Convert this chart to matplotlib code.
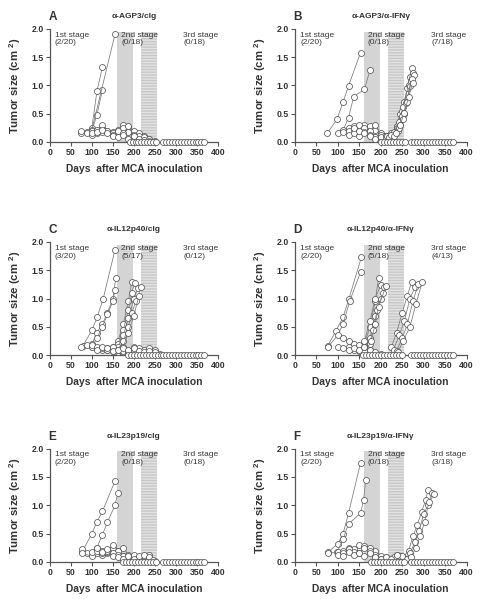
"""Tumor growth curves after MCA inoculation, six antibody treatment groups."""

import matplotlib

matplotlib.use("Agg")

import matplotlib.pyplot as plt

plt.rcParams["font.family"] = ["Liberation Sans", "DejaVu Sans"]
plt.rcParams["mathtext.fontset"] = "custom"
plt.rcParams["mathtext.rm"] = "Liberation Sans"
plt.rcParams["mathtext.bf"] = "Liberation Sans:bold"

PANEL_LETTERS = ["A", "B", "C", "D", "E", "F"]
PANEL_TITLES = [
    "α-AGP3/cIg",
    "α-AGP3/α-IFNγ",
    "α-IL12p40/cIg",
    "α-IL12p40/α-IFNγ",
    "α-IL23p19/cIg",
    "α-IL23p19/α-IFNγ",
]
STAGE1_COUNTS = ["(2/20)", "(2/20)", "(3/20)", "(2/20)", "(2/20)", "(2/20)"]
STAGE2_COUNTS = ["(0/18)", "(0/18)", "(5/17)", "(5/18)", "(0/18)", "(0/18)"]
STAGE3_COUNTS = ["(0/18)", "(7/18)", "(0/12)", "(4/13)", "(0/18)", "(3/18)"]

# treatment windows (days)
SECOND_STAGE_WINDOW = (160, 198)
THIRD_STAGE_WINDOW = (216, 255)

# each mouse: (days, tumor size in cm2)
A_MICE = [
    ([100, 112, 125], [0.20, 0.48, 0.92]),
    ([100, 112, 125], [0.25, 0.90, 1.32]),
    ([100, 155], [0.22, 1.90]),
    ([75, 88, 100, 112, 125, 137, 150, 162, 175, 187, 200, 212, 225, 237, 250],
     [0.15, 0.18, 0.20, 0.15, 0.25, 0.20, 0.18, 0.22, 0.30, 0.25, 0.20, 0.15, 0.10, 0.05, 0.00]),
    ([75, 88, 100, 112, 125, 137, 150, 162, 175, 187, 200, 212],
     [0.20, 0.15, 0.12, 0.20, 0.30, 0.18, 0.15, 0.12, 0.25, 0.18, 0.10, 0.05]),
    ([100, 112, 125, 137, 150, 162, 175, 187, 200, 212, 225, 237, 250],
     [0.15, 0.22, 0.18, 0.20, 0.12, 0.20, 0.15, 0.28, 0.12, 0.10, 0.08, 0.05, 0.02]),
    ([112, 125, 137, 150, 162, 175, 187, 200, 212, 225, 237, 250],
     [0.18, 0.22, 0.15, 0.10, 0.08, 0.12, 0.05, 0.10, 0.05, 0.03, 0.02, 0.00]),
]
B_MICE = [
    ([75, 98, 112, 125, 153], [0.15, 0.40, 0.70, 0.99, 1.58]),
    ([112, 125, 137, 162, 175], [0.20, 0.43, 0.80, 0.93, 1.27]),
    ([100, 112, 125, 137, 150, 162, 175, 187, 200, 212],
     [0.15, 0.22, 0.25, 0.28, 0.25, 0.30, 0.28, 0.22, 0.15, 0.10]),
    ([112, 125, 137, 150, 162, 175, 187, 200],
     [0.18, 0.20, 0.22, 0.30, 0.25, 0.20, 0.30, 0.12]),
    ([125, 137, 150, 162, 175, 187, 200, 212, 225],
     [0.12, 0.15, 0.10, 0.18, 0.12, 0.08, 0.05, 0.10, 0.05]),
    ([137, 150, 162, 175, 187], [0.25, 0.20, 0.15, 0.10, 0.05]),
    ([200, 212, 225, 237, 245, 255, 268], [0.08, 0.10, 0.16, 0.28, 0.49, 0.70, 1.15]),
    ([212, 225, 237, 250, 262, 272], [0.05, 0.12, 0.25, 0.55, 0.95, 1.30]),
    ([215, 230, 242, 252, 265, 275], [0.10, 0.18, 0.35, 0.62, 1.00, 1.22]),
    ([220, 235, 245, 255, 268, 278], [0.08, 0.15, 0.30, 0.50, 0.98, 1.18]),
    ([225, 240, 250, 260, 270], [0.12, 0.20, 0.45, 0.68, 1.08]),
    ([230, 242, 252, 262, 272], [0.10, 0.25, 0.40, 0.70, 1.12]),
    ([235, 245, 255, 265, 275], [0.15, 0.30, 0.52, 0.80, 1.05]),
]
C_MICE = [
    ([78, 100, 113, 127, 155], [0.16, 0.44, 0.68, 1.00, 1.86]),
    ([100, 112, 125, 137, 150, 157], [0.20, 0.40, 0.55, 0.75, 1.00, 1.37]),
    ([100, 112, 125, 137, 150, 155], [0.15, 0.30, 0.50, 0.72, 0.95, 1.15]),
    ([137, 150, 162, 175, 187, 195], [0.10, 0.15, 0.25, 0.55, 0.95, 1.30]),
    ([150, 162, 175, 187, 195, 202], [0.12, 0.20, 0.45, 0.80, 1.10, 1.28]),
    ([150, 162, 175, 187, 200, 210], [0.08, 0.15, 0.35, 0.65, 1.00, 1.18]),
    ([162, 175, 187, 195, 205, 218], [0.10, 0.25, 0.50, 0.75, 0.95, 1.20]),
    ([162, 175, 187, 200, 212], [0.05, 0.15, 0.40, 0.70, 1.05]),
    ([75, 88, 100, 112, 125, 137, 150, 162, 175],
     [0.15, 0.18, 0.15, 0.12, 0.10, 0.12, 0.08, 0.10, 0.05]),
    ([100, 112, 125, 137, 150, 162, 175, 187],
     [0.18, 0.15, 0.12, 0.10, 0.15, 0.10, 0.08, 0.05]),
    ([112, 125, 137, 150, 162, 175, 187, 200, 212, 225, 237, 250, 262],
     [0.10, 0.15, 0.12, 0.08, 0.10, 0.12, 0.08, 0.15, 0.12, 0.10, 0.12, 0.10, 0.02]),
    ([187, 200, 212, 225, 237, 250], [0.10, 0.12, 0.08, 0.05, 0.08, 0.05]),
]
D_MICE = [
    ([77, 95, 112, 126, 155], [0.17, 0.42, 0.67, 1.00, 1.73]),
    ([77, 100, 112, 128, 153], [0.15, 0.35, 0.55, 0.96, 1.47]),
    ([150, 162, 175, 187, 195], [0.10, 0.20, 0.50, 0.95, 1.36]),
    ([150, 162, 175, 187, 200], [0.08, 0.25, 0.60, 1.00, 1.24]),
    ([162, 175, 187, 200, 208], [0.10, 0.30, 0.70, 1.00, 1.20]),
    ([162, 175, 182, 192, 205], [0.05, 0.20, 0.45, 0.80, 1.10]),
    ([165, 178, 187, 195, 212], [0.08, 0.25, 0.55, 0.85, 1.22]),
    ([225, 237, 250, 262, 272], [0.15, 0.40, 0.75, 1.05, 1.30]),
    ([230, 243, 255, 268, 280], [0.10, 0.35, 0.60, 1.00, 1.20]),
    ([237, 250, 262, 275, 287], [0.08, 0.30, 0.55, 0.95, 1.25]),
    ([240, 252, 268, 282, 297], [0.05, 0.25, 0.50, 0.90, 1.30]),
    ([100, 112, 125, 137, 150, 162, 175, 187],
     [0.15, 0.12, 0.15, 0.10, 0.12, 0.08, 0.05, 0.02]),
    ([112, 125, 137, 150, 162, 175], [0.30, 0.25, 0.20, 0.18, 0.15, 0.10]),
    ([125, 137, 150, 162, 175, 187, 200], [0.10, 0.12, 0.10, 0.15, 0.10, 0.05, 0.03]),
]
E_MICE = [
    ([77, 100, 112, 125, 155], [0.18, 0.50, 0.71, 0.89, 1.43]),
    ([100, 112, 125, 137, 155, 162], [0.15, 0.25, 0.48, 0.70, 1.00, 1.22]),
    ([77, 88, 100, 112, 125, 137, 150, 162, 175, 187, 200],
     [0.22, 0.15, 0.12, 0.18, 0.20, 0.15, 0.25, 0.20, 0.25, 0.12, 0.08]),
    ([77, 100, 112, 125, 137, 150, 162, 175],
     [0.15, 0.10, 0.15, 0.12, 0.18, 0.30, 0.20, 0.10]),
    ([100, 112, 125, 137, 150, 162, 175, 187, 200, 212, 225, 237, 250],
     [0.18, 0.20, 0.15, 0.20, 0.15, 0.12, 0.10, 0.08, 0.12, 0.08, 0.10, 0.12, 0.02]),
    ([112, 125, 137, 150, 162, 175, 187, 200, 212, 225, 237, 245],
     [0.25, 0.18, 0.22, 0.10, 0.08, 0.05, 0.10, 0.05, 0.10, 0.12, 0.08, 0.03]),
]
F_MICE = [
    ([77, 100, 112, 125, 153], [0.17, 0.32, 0.49, 0.86, 1.75]),
    ([98, 112, 125, 153, 160, 165], [0.17, 0.40, 0.67, 0.86, 1.09, 1.45]),
    ([237, 252, 265, 275, 285, 295, 305, 310],
     [0.12, 0.08, 0.20, 0.45, 0.65, 0.88, 1.10, 1.27]),
    ([245, 258, 268, 280, 290, 300, 310, 320],
     [0.10, 0.05, 0.15, 0.35, 0.55, 0.85, 1.00, 1.22]),
    ([230, 250, 270, 282, 292, 302, 312, 325],
     [0.08, 0.10, 0.08, 0.25, 0.45, 0.70, 1.05, 1.20]),
    ([77, 100, 112, 125, 137, 150, 162, 175, 187, 200, 212],
     [0.15, 0.18, 0.20, 0.25, 0.22, 0.30, 0.28, 0.25, 0.20, 0.10, 0.08]),
    ([100, 112, 125, 137, 150, 162, 175, 187, 200],
     [0.12, 0.15, 0.22, 0.18, 0.15, 0.25, 0.20, 0.12, 0.05]),
    ([112, 125, 137, 150, 162, 175, 187, 200, 212, 225, 237],
     [0.10, 0.18, 0.12, 0.15, 0.10, 0.15, 0.08, 0.05, 0.08, 0.05, 0.12]),
]

# days where tumor-free mice were recorded at 0
A_ZEROS = [190, 197, 204, 211, 218, 225, 232, 239, 246, 253]
B_ZEROS = [200, 207, 214, 221, 228, 235, 242, 249, 256]
C_ZEROS = [187, 194, 201, 208, 215, 222, 229, 236, 243, 250, 257, 264]
D_ZEROS = [158, 165, 172, 179, 186, 193, 200, 207, 214, 221, 228, 235, 242, 249]
E_ZEROS = [175, 182, 189, 196, 203, 210, 217, 224, 231, 238, 245, 252]
F_ZEROS = [177, 184, 191, 198, 205, 212, 219, 226, 233, 240, 247, 254]
LATE_ZEROS = [270, 277, 284, 291, 298, 305, 312, 319, 326, 333, 340, 347, 354, 361, 368]

ALL_MICE = [A_MICE, B_MICE, C_MICE, D_MICE, E_MICE, F_MICE]
ALL_ZEROS = [A_ZEROS, B_ZEROS, C_ZEROS, D_ZEROS, E_ZEROS, F_ZEROS]

X_TICKS = [0, 50, 100, 150, 200, 250, 300, 350, 400]
Y_TICKS = [0.0, 0.5, 1.0, 1.5, 2.0]

# axes boxes in figure fraction: left, bottom, width, height
LEFTS = [0.103, 0.608]
WIDTHS = [0.346, 0.354]
BOTTOMS = [0.763, 0.407, 0.062]
HEIGHT = 0.189

LINE_COLOR = "#7a7a7a"
EDGE_COLOR = "#555555"
TEXT_COLOR = "#3a3a3a"


def draw_series(axes, days, sizes):
    axes.plot(
        days, sizes, color=LINE_COLOR, linewidth=0.55, marker="o", markersize=4.3,
        markerfacecolor="white", markeredgecolor=EDGE_COLOR, markeredgewidth=0.55,
        zorder=3, clip_on=False,
    )


def draw_panel(axes, index):
    axes.axvspan(*SECOND_STAGE_WINDOW, ymax=0.975, color="#d4d4d4", linewidth=0, zorder=0)
    axes.axvspan(
        *THIRD_STAGE_WINDOW, ymax=0.975, facecolor="#c8c8c8", edgecolor="#e2e2e2",
        hatch="------", linewidth=0, zorder=0,
    )
    for days, sizes in ALL_MICE[index]:
        draw_series(axes, days, sizes)
    draw_series(axes, ALL_ZEROS[index], [0.0] * len(ALL_ZEROS[index]))
    draw_series(axes, LATE_ZEROS, [0.0] * len(LATE_ZEROS))

    stage_style = dict(fontsize=6, color=TEXT_COLOR, va="top", ha="left", linespacing=1.15)
    axes.text(12, 1.95, "1st stage\n" + STAGE1_COUNTS[index], **stage_style)
    axes.text(170, 1.95, "2nd stage\n" + STAGE2_COUNTS[index], **stage_style)
    axes.text(318, 1.95, "3rd stage\n" + STAGE3_COUNTS[index], **stage_style)

    axes.set_xlim(0, 400)
    axes.set_ylim(0, 2.0)
    axes.set_xticks(X_TICKS)
    axes.set_yticks(Y_TICKS)
    axes.set_yticklabels([f"{v:.1f}" for v in Y_TICKS])
    axes.tick_params(labelsize=6.3, length=3, width=0.8, color="#555555", labelcolor="#333333", pad=1.5)
    for label in axes.get_xticklabels() + axes.get_yticklabels():
        label.set_fontweight("bold")
    for side in ("top", "right"):
        axes.spines[side].set_visible(False)
    for side in ("left", "bottom"):
        axes.spines[side].set_linewidth(0.9)
        axes.spines[side].set_color("#555555")

    axes.set_xlabel("Days  after MCA inoculation", fontsize=7.4, fontweight="bold", color="#333333", labelpad=5)
    axes.set_ylabel("Tumor size (cm $^{\\mathbf{2}}$)", fontsize=8.2, fontweight="bold", color="#333333", labelpad=6)
    axes.set_title(PANEL_TITLES[index], fontsize=6, fontweight="bold", color="#333333", pad=8)
    axes.text(-0.01, 1.05, PANEL_LETTERS[index], transform=axes.transAxes,
              fontsize=8.5, fontweight="bold", color="#333333", ha="left", va="bottom")


figure = plt.figure(figsize=(4.85, 5.99), dpi=100)
for index in range(6):
    row, col = divmod(index, 2)
    axes = figure.add_axes([LEFTS[col], BOTTOMS[row], WIDTHS[col], HEIGHT])
    draw_panel(axes, index)

figure.savefig("out.png", dpi=100)
plt.close(figure)
